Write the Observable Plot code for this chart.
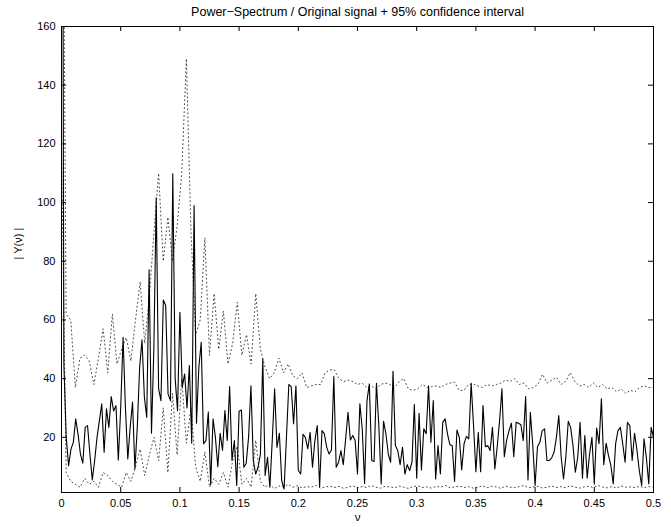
<!DOCTYPE html>
<html><head><meta charset="utf-8">
<script src="https://cdn.jsdelivr.net/npm/d3@7"></script>
<script src="https://cdn.jsdelivr.net/npm/@observablehq/plot@0.6"></script>
<style>html,body{margin:0;padding:0;background:#fff}svg{display:block}</style>
</head><body><div id="chart"></div>
<script>
// |Y(nu)| spectrum (solid), uniformly spaced over nu = 0 … 0.5
const spectrum = [400,45,20,10.3,16,18.3,26.3,21,14.3,11.2,23.4,24,14.3,5.5,12,20,25.7,31.4,14.9,29.7,
23.4,33.9,29,30.8,12.3,30,54.1,30,12.6,23.4,32,9.2,23.4,43.9,53.2,33.7,26.8,77.1,21.4,50,
101.6,36.6,32.5,66.8,64.9,34.8,32.5,109.8,40,29.1,62.6,37.1,41.6,30,44.5,18,99,24.8,43.9,52.4,
17.8,18.9,28.6,3.9,26.3,20,10,21.4,15.5,29.1,18.9,37.3,12.1,18.9,3.6,28.9,29.3,9.8,11.2,20,
37.6,12.1,7.5,9.8,14.3,46.7,7,13.2,3,18.9,36.5,16.6,21.4,5.2,2.4,20,38,37.3,24.6,37.6,
8.7,7.5,21,20,16.1,21.7,9.8,18.9,24,3.2,22.3,21.2,16.6,14.3,15.7,40.7,9.8,11.5,15.5,10.7,
19.5,28.5,19.1,20.6,18.9,7.5,31.4,22.9,4.3,32.5,38.2,12.1,11.8,38.4,24,4.1,25.5,21.2,14.3,11.5,
42.5,17.2,15.5,10.7,16.6,7.5,10.7,8.7,11.5,31.2,6.1,28.2,8.9,22.9,21.2,37.6,18.3,32.5,5.8,17.2,
7.5,25.1,26.3,21.2,17.5,17.2,5,22.5,20,8.9,17.8,20.3,19.5,38.4,24,8.3,21.7,8.3,30.8,16.8,
17.2,15.5,23.4,9.2,16.8,25.7,36.5,13.4,19.1,22.3,24.8,13.4,25.1,24.8,24.3,18.9,33.9,5.5,28.5,17.5,
3.6,16.8,18.3,22.3,22.9,12.1,12.1,13,14.9,20,27.4,13.4,5.8,13.4,25.5,23.4,17.2,8.1,13.2,25.1,
6.1,20.6,6.1,14.3,20,4.1,23.2,17.8,33.1,10.7,18,13.8,10.4,4.1,17.8,22.3,23.4,17.8,11.5,25.1,
24,12.1,21.4,15.7,8.7,3.6,19.5,13,4.1,23.4,20];

// upper 95% confidence bound (dotted), uniformly spaced over nu = 0 … 0.5
const upperCI = [300,62,60,37,47,48,46,38,47,57,42,62,45,50,54,46,60,73,52,68,
90,110,80,95,80,92,110,149,90,55,60,88,48,69,50,63,45,52,66,48,
55,45,69,50,44,40,42,47,42,45,41,40,42,37,37.5,38,38,42,43,43,
40,39,39.5,39,38,38.5,37,37.5,36.5,38,38.5,38,37,39,40,36.5,36,36.5,38,37,
37.3,37.5,37,38,38.5,38.8,36,36,38,38.2,37.5,37,38,37.5,38,38.5,39.5,39,40,38,
38.5,36.5,37,38,41.5,38.5,39.5,40.5,38,39,42,39,37.5,38,37,38.5,37,38,36.5,37,
35.5,36.5,35,36,35.5,37,37.5,37,37];

// lower 95% confidence bound (dotted), uniformly spaced over nu = 0 … 0.5
const lowerCI = [120,8,5,4,3,6,4,5,3,8,7,5,4,3,8,5,10,16,7,14,
20,12,30,8,35,14,40,18,30,10,5,15,3,6,4,8,3,12,17,4,
6,3,19,5,3,4,2.5,3.5,3,4,3,3.5,2.8,3.2,3,3.6,2.7,3.1,3.4,2.9,
3.3,2.6,3,3.5,2.8,3.2,2.9,3.6,3,2.7,3.3,3.1,2.8,3.4,3,2.6,3.2,3.5,2.9,3.1,
2.7,3.3,3,3.6,2.8,3.1,3.4,2.9,3.2,2.7,3,3.5,2.8,3.3,3.1,2.6,3.4,3,2.9,3.2,
3.6,2.8,3.1,3.3,2.7,3,3.4,2.9,3.2,2.8,3.5,3,2.7,3.1,3.3,2.9,3.6,3,2.8,3.2,
2.7,3.4,3,3.1,2.9,3.3,2.8,3.2,3];

const xTicks = [0, 0.05, 0.1, 0.15, 0.2, 0.25, 0.3, 0.35, 0.4, 0.45, 0.5];
const yTicks = [20, 40, 60, 80, 100, 120, 140, 160];
const titleText = "Power\u2212Spectrum / Original signal + 95% confidence interval";
const xLabel = "\u03bd";
const yLabel = "| Y(\u03bd) |";

const rows = arr => arr.map((v, i) => ({nu: i * 0.5 / (arr.length - 1), v}));

const W = 671, H = 527, mL = 61, mR = 18, mT = 26, mB = 35;
const fw = W - mL - mR, fh = H - mT - mB, tk = 5;

const chart = Plot.plot({
  width: W, height: H,
  marginLeft: mL, marginRight: mR, marginTop: mT, marginBottom: mB,
  style: {fontFamily: "'Liberation Sans', Arial, Helvetica, sans-serif", fontSize: "11px", color: "#000", background: "#fff", overflow: "visible"},
  x: {domain: [0, 0.5]},
  y: {domain: [1.2, 160]},
  marks: [
    Plot.lineY(rows(upperCI), {x: "nu", y: "v", stroke: "#333", strokeWidth: 0.9, strokeDasharray: "1,3", clip: true}),
    Plot.lineY(rows(lowerCI), {x: "nu", y: "v", stroke: "#333", strokeWidth: 0.9, strokeDasharray: "1,3", clip: true}),
    Plot.lineY(rows(spectrum), {x: "nu", y: "v", stroke: "#000", strokeWidth: 1.1, clip: true}),
    Plot.frame({stroke: "#000", strokeWidth: 1}),
    Plot.tickX(xTicks, {x: d => d, insetTop: fh - tk, stroke: "#000"}),
    Plot.tickX(xTicks, {x: d => d, insetBottom: fh - tk, stroke: "#000"}),
    Plot.tickY(yTicks, {y: d => d, insetRight: fw - tk, stroke: "#000"}),
    Plot.tickY(yTicks, {y: d => d, insetLeft: fw - tk, stroke: "#000"}),
    Plot.axisX(xTicks, {tickSize: 0, tickPadding: 7, tickFormat: d => String(d), label: null}),
    Plot.axisY(yTicks, {tickSize: 0, tickPadding: 6, tickFormat: d => String(d), label: null}),
    Plot.text([titleText], {frameAnchor: "top", dy: -15, text: d => d, fontSize: 12.5, lineAnchor: "middle"}),
    Plot.text([xLabel], {frameAnchor: "bottom", dy: 25, text: d => d, fontSize: 11.5, lineAnchor: "middle"}),
    Plot.text([yLabel], {frameAnchor: "left", dx: -43, text: d => d, fontSize: 11, rotate: -90, lineAnchor: "middle"})
  ]
});
document.getElementById("chart").appendChild(chart);
</script>
</body></html>
